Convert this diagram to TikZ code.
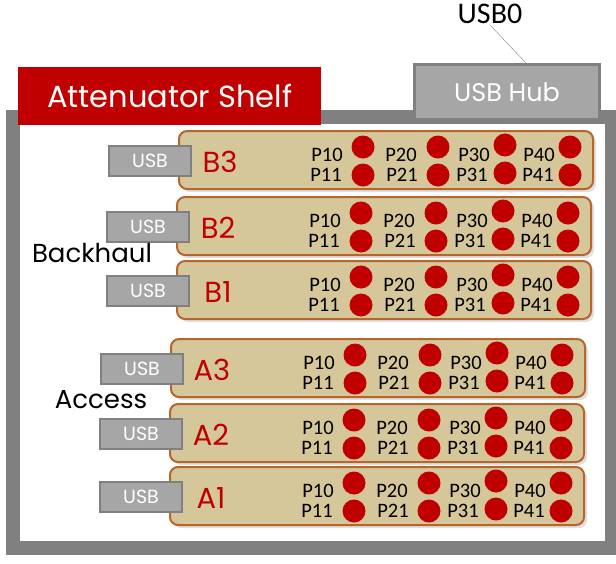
\documentclass[tikz,border=0pt]{standalone}
\usepackage{fontspec}
\setmainfont{Poppins}
\newfontfamily\portfont{Carlito}
\usepackage{tikz}
\usetikzlibrary{positioning,shadows}
\definecolor{shelfred}{HTML}{C00000}
\definecolor{hubgray}{HTML}{A6A6A6}
\definecolor{rimgray}{HTML}{808080}
\definecolor{boardtan}{HTML}{D5C79A}
\definecolor{boardrim}{HTML}{B6652C}
\tikzstyle{shelf}=[draw=rimgray, line width=14pt]
\tikzstyle{title}=[rectangle, fill=shelfred, text=white, anchor=north west,
minimum width=303pt, minimum height=58pt, font=\fontsize{30.5}{33}\selectfont]
\tikzstyle{hub}=[rectangle, fill=hubgray, draw=rimgray, line width=3pt, text=white,
anchor=north west, minimum width=185pt, minimum height=55pt, font=\fontsize{25.5}{28}\selectfont]
\tikzstyle{board}=[rectangle, rounded corners=8pt, draw=boardrim, line width=2pt, fill=boardtan,
drop shadow={opacity=0.25, shadow xshift=3pt, shadow yshift=-3pt},
anchor=north west, minimum width=414pt, minimum height=58pt]
\tikzstyle{usb}=[rectangle, fill=hubgray, draw=rimgray, line width=2pt, text=white,
minimum width=82pt, minimum height=30pt, font=\fontsize{19}{21}\selectfont]
\tikzstyle{tag}=[text=shelfred, inner sep=0pt, font=\fontsize{29}{32}\selectfont]
\tikzstyle{group}=[text=black, inner sep=0pt, font=\fontsize{26}{30}\selectfont]
\tikzstyle{port}=[inner sep=0pt, font=\portfont\fontsize{20.5}{22}\selectfont]
\tikzstyle{led}=[circle, fill=shelfred, minimum size=23pt, inner sep=0pt]

\begin{document}
\begin{tikzpicture}[x=1pt, y=-1pt]
            \useasboundingbox (0,0) rectangle (616,563);
            % shelf frame
            \draw[shelf] (13,117) rectangle (612,548);
            \node (title)[title] at (18,67) {Attenuator Shelf};
            \node (hub)[hub] at (413,63) {USB Hub};
            \node (usb0)[inner sep=1pt, font=\portfont\fontsize{30}{32}\selectfont] at (490,14) {USB0};
            \draw [rimgray] (usb0.south) -- ([xshift=19pt]hub.north);

            % attenuator boards
            \foreach \nm/\bx/\by in {B3/178/130, B2/176/196, B1/176/260, A3/170/338, A2/169/403, A1/169/466}{
                \begin{scope}[shift={(\bx,\by)}]
                    \node (\nm)[board] at (0,0) {};
                    \node (\nm-usb)[usb] at (-28,31) {USB};
                    \node (\nm-tag)[tag] at (42,32) {\nm};
                    \foreach \c/\tx/\ux/\lx/\dy in {1/149/148/185/0, 2/223/224/260/0, 3/296/294/327/-2, 4/361/360/392/0}{
                        \node (\nm-p\c0)[port] at (\tx,25) {P\c0};
                        \node (\nm-p\c1)[port] at (\ux,45) {P\c1};
                        \node (\nm-l\c0)[led] at (\lx,17+\dy) {};
                        \node (\nm-l\c1)[led] at (\lx,45+\dy) {};
                    }
                \end{scope}
            }

            \node (backhaul)[group] at (92,253) {Backhaul};
            \node (access)[group] at (101,400) {Access};
        \end{tikzpicture}
\end{document}
